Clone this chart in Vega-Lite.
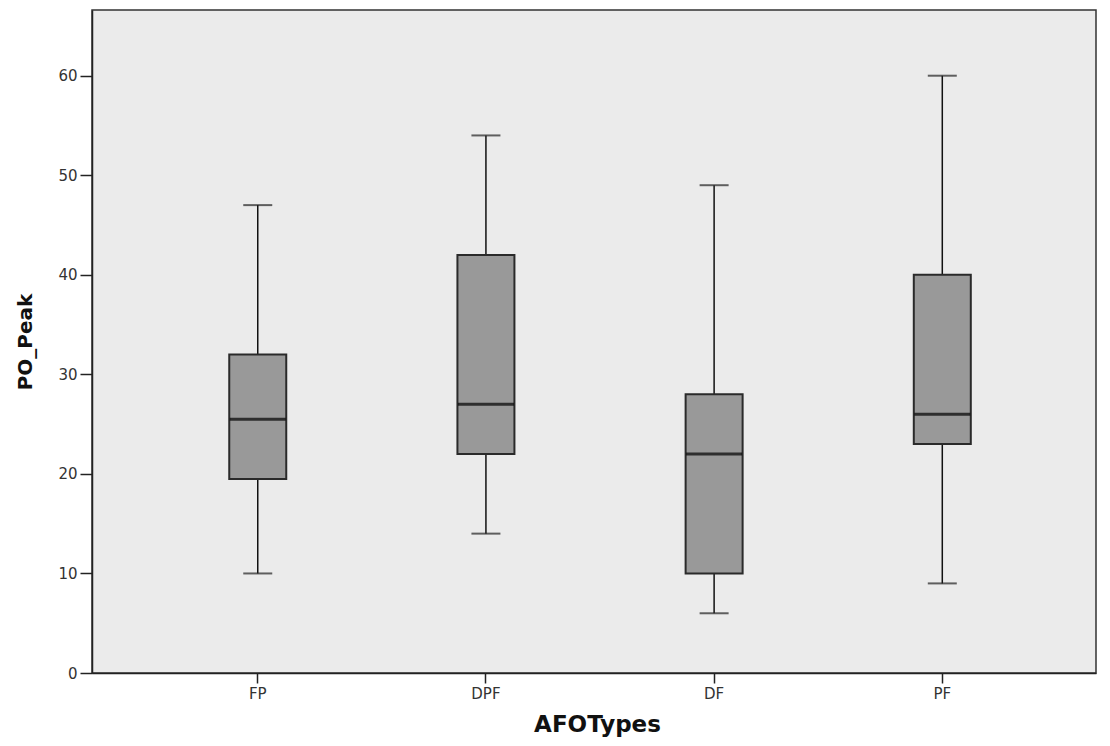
{
  "$schema": "https://vega.github.io/schema/vega-lite/v6.json",
  "width": 1004,
  "height": 663,
  "autosize": {"type": "none"},
  "padding": {"left": 92, "top": 10, "right": 14, "bottom": 73},
  "background": "white",
  "config": {
    "view": {"fill": "#ebebeb", "stroke": "#333333", "strokeWidth": 1.5},
    "axis": {
      "labelFont": "DejaVu Sans",
      "titleFont": "DejaVu Sans",
      "labelColor": "#333333",
      "titleColor": "#111111",
      "domainColor": "#222222",
      "tickColor": "#222222",
      "domainWidth": 1.5,
      "tickWidth": 1.5,
      "grid": false
    }
  },
  "data": {
    "values": [
      {"AFOTypes": "FP", "lower": 10, "q1": 19.5, "median": 25.5, "q3": 32, "upper": 47},
      {"AFOTypes": "DPF", "lower": 14, "q1": 22, "median": 27, "q3": 42, "upper": 54},
      {"AFOTypes": "DF", "lower": 6, "q1": 10, "median": 22, "q3": 28, "upper": 49},
      {"AFOTypes": "PF", "lower": 9, "q1": 23, "median": 26, "q3": 40, "upper": 60}
    ]
  },
  "encoding": {
    "x": {
      "field": "AFOTypes",
      "type": "nominal",
      "sort": ["FP", "DPF", "DF", "PF"],
      "scale": {"type": "band", "paddingInner": 0, "paddingOuter": 0.2, "align": 0.566},
      "axis": {
        "title": "AFOTypes",
        "labelAngle": 0,
        "labelFontSize": 15,
        "titleFontSize": 23,
        "titleFontWeight": "bold",
        "tickSize": 10,
        "labelPadding": 3,
        "titlePadding": 12,
        "titleX": 505
      }
    }
  },
  "layer": [
    {
      "mark": {"type": "rule", "color": "#111111", "strokeWidth": 1.5},
      "encoding": {
        "y": {
          "field": "lower",
          "type": "quantitative",
          "scale": {"domain": [0, 66.6], "nice": false},
          "axis": {
            "title": "PO_Peak",
            "values": [0, 10, 20, 30, 40, 50, 60],
            "labelFontSize": 15,
            "titleFontSize": 20,
            "titleFontWeight": "bold",
            "tickSize": 12,
            "labelPadding": 3,
            "titlePadding": 22
          }
        },
        "y2": {"field": "upper"}
      }
    },
    {
      "mark": {"type": "tick", "color": "#222222", "size": 29, "thickness": 2, "orient": "horizontal"},
      "encoding": {"y": {"field": "lower", "type": "quantitative"}}
    },
    {
      "mark": {"type": "tick", "color": "#222222", "size": 29, "thickness": 2, "orient": "horizontal"},
      "encoding": {"y": {"field": "upper", "type": "quantitative"}}
    },
    {
      "mark": {"type": "bar", "size": 57, "fill": "#999999", "stroke": "#2a2a2a", "strokeWidth": 2},
      "encoding": {
        "y": {"field": "q1", "type": "quantitative"},
        "y2": {"field": "q3"}
      }
    },
    {
      "mark": {"type": "tick", "color": "#000000", "size": 56, "thickness": 3, "orient": "horizontal"},
      "encoding": {"y": {"field": "median", "type": "quantitative"}}
    }
  ]
}
